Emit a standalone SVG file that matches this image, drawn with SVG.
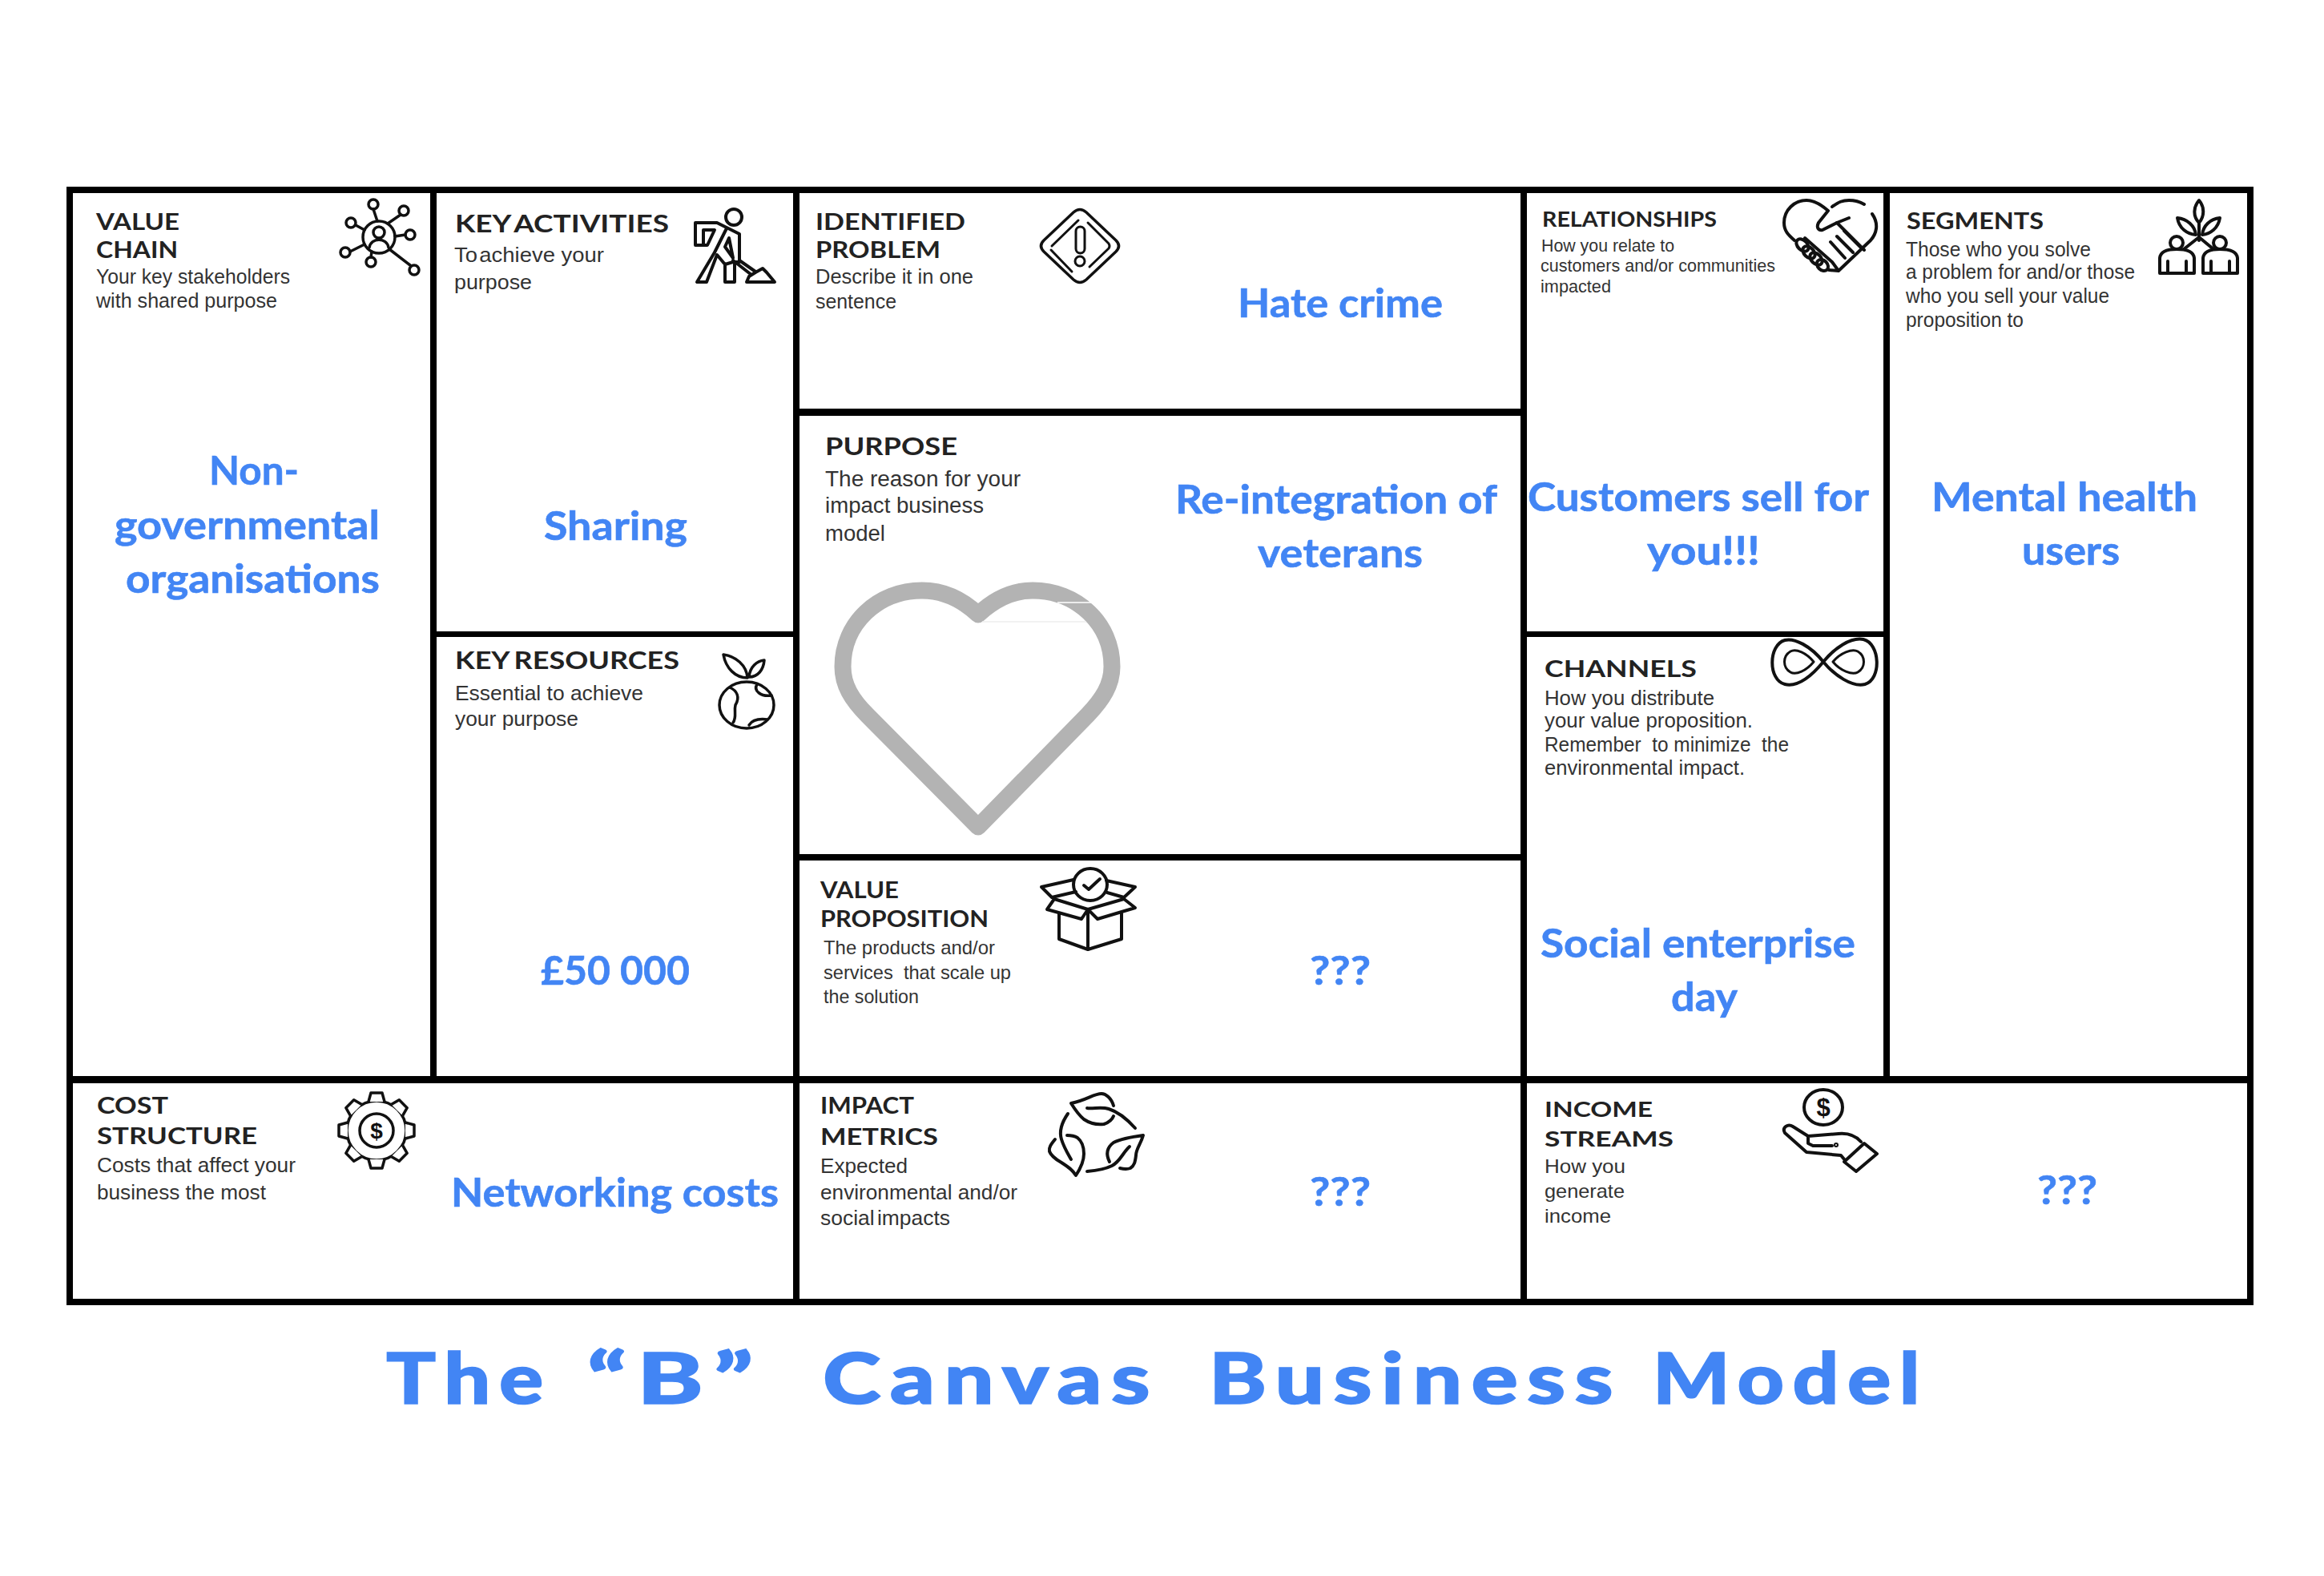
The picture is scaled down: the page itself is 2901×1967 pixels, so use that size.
<svg xmlns="http://www.w3.org/2000/svg" width="2901" height="1967" viewBox="0 0 2901 1967">
<style>
text{white-space:pre}
.h{font-family:"Lato","Liberation Sans",sans-serif;font-weight:700;fill:#222;font-size:29px}
.d{font-family:"Liberation Sans",Arial,sans-serif;fill:#333;font-size:25px}
.b{font-family:"Lato","Liberation Sans",sans-serif;font-weight:700;fill:#4285f4;stroke:#4285f4;stroke-width:.6px;font-size:49px}
.t{font-family:"Lato","Liberation Sans",sans-serif;font-weight:900;fill:#4285f4;stroke:#4285f4;stroke-width:1.5px;font-size:87px;letter-spacing:9px}
.i{fill:none;stroke:#111;stroke-width:3.5;stroke-linejoin:round;stroke-linecap:round}
.g{fill:#000}
</style>
<defs>
<path id="tooth" d="M-10 -36 L-7 -47 H7 L10 -36" fill="#fff" stroke="#111" stroke-width="3.5" stroke-linejoin="round"/>
</defs>
<rect width="2901" height="1967" fill="#fff"/>
<g id="grid">
<rect class="g" x="83" y="233" width="2730" height="8"/>
<rect class="g" x="83" y="1343" width="2730" height="9"/>
<rect class="g" x="83" y="1621" width="2730" height="8"/>
<rect class="g" x="83" y="233" width="8" height="1396"/>
<rect class="g" x="2805" y="233" width="8" height="1396"/>
<rect class="g" x="537" y="233" width="8" height="1115"/>
<rect class="g" x="990" y="233" width="8" height="1396"/>
<rect class="g" x="1898" y="233" width="8" height="1396"/>
<rect class="g" x="2351" y="233" width="8" height="1115"/>
<rect class="g" x="541" y="788" width="453" height="7"/>
<rect class="g" x="994" y="510" width="908" height="9"/>
<rect class="g" x="994" y="1066" width="908" height="8"/>
<rect class="g" x="1902" y="788" width="453" height="7"/>
</g>
<g id="value-chain">
<text class="h" x="120" y="287" textLength="104" lengthAdjust="spacingAndGlyphs">VALUE</text>
<text class="h" x="120" y="322" textLength="102" lengthAdjust="spacingAndGlyphs">CHAIN</text>
<text class="d" x="120" y="354" textLength="242" lengthAdjust="spacingAndGlyphs">Your key stakeholders</text>
<text class="d" x="120" y="384" textLength="226" lengthAdjust="spacingAndGlyphs">with shared purpose</text>
<text class="b" x="261" y="605" textLength="112" lengthAdjust="spacingAndGlyphs">Non-</text>
<text class="b" x="143" y="673" textLength="331" lengthAdjust="spacingAndGlyphs">governmental</text>
<text class="b" x="157" y="740" textLength="317" lengthAdjust="spacingAndGlyphs">organisations</text>
<g class="i">
<circle cx="473" cy="296" r="20"/><circle cx="473" cy="290" r="7"/><path d="M461 309C463 296 483 296 485 309"/>
<path d="M471 276L466 261M484 279L500 268M455 287L444 281M493 295L506 293M455 305L437 314M464 314L463 321M486 311L512 331"/>
<circle cx="466" cy="255" r="6"/><circle cx="504" cy="263" r="6"/><circle cx="438" cy="278" r="6"/><circle cx="512" cy="293" r="6"/><circle cx="431" cy="315" r="6"/><circle cx="463" cy="327" r="6"/><circle cx="517" cy="337" r="6"/>
</g>
</g>
<g id="key-activities">
<text class="h" x="568" y="290" style="font-size:31px;word-spacing:-3px" textLength="267" lengthAdjust="spacingAndGlyphs">KEY ACTIVITIES</text>
<text class="d" x="567" y="327" style="font-size:26px" textLength="187" lengthAdjust="spacingAndGlyphs"><tspan style="word-spacing:-5px">To achieve</tspan> your</text>
<text class="d" x="567" y="361" style="font-size:26px" textLength="97" lengthAdjust="spacingAndGlyphs">purpose</text>
<text class="b" x="679" y="674" textLength="179" lengthAdjust="spacingAndGlyphs">Sharing</text>
<g class="i" style="stroke-width:4">
<circle cx="916" cy="271" r="10"/>
<path d="M868 278H895L923 292V327H915L905 330V352H917V327M868 278V306H883L892 287H878V306M892 315L870 352H882L895 318L905 330M892 315L907 285M910 297L905 308L915 322Z"/>
<path d="M915 325L938 343M923 325L943 339M932 352L935 345L943 340L952 335L957 340L967 352Z"/>
</g>
</g>
<g id="key-resources">
<text class="h" x="568" y="835" style="font-size:31px;word-spacing:-2px" textLength="280" lengthAdjust="spacingAndGlyphs">KEY RESOURCES</text>
<text class="d" x="568" y="874" textLength="235" lengthAdjust="spacingAndGlyphs">Essential to achieve</text>
<text class="d" x="568" y="906" textLength="154" lengthAdjust="spacingAndGlyphs">your purpose</text>
<text class="b" x="675" y="1229" textLength="186" lengthAdjust="spacingAndGlyphs">£50 000</text>
<g class="i">
<ellipse cx="932" cy="880" rx="34" ry="29"/>
<path d="M903 817C918 819 932 830 933 846C918 846 906 834 903 817ZM954 824C945 825 936 832 935 845C946 845 953 836 954 824Z"/>
<path d="M911 858C920 862 924 870 918 880C916 888 920 895 915 902M945 854C940 862 950 870 963 868M935 905C940 897 950 897 958 898"/>
</g>
</g>
<g id="identified-problem">
<text class="h" x="1018" y="287" textLength="187" lengthAdjust="spacingAndGlyphs">IDENTIFIED</text>
<text class="h" x="1018" y="322" textLength="156" lengthAdjust="spacingAndGlyphs">PROBLEM</text>
<text class="d" x="1018" y="354" textLength="197" lengthAdjust="spacingAndGlyphs">Describe it in one</text>
<text class="d" x="1018" y="385" textLength="101" lengthAdjust="spacingAndGlyphs">sentence</text>
<text class="b" x="1545" y="396" textLength="256" lengthAdjust="spacingAndGlyphs">Hate crime</text>
<g class="i">
<path d="M1340 265Q1348 258 1356 265L1393 300Q1400 307 1393 314L1356 349Q1348 356 1340 349L1303 314Q1296 307 1303 300Z"/>
<path d="M1313 307L1346 275M1358 278L1384 304Q1386 307 1384 310L1360 333M1338 339L1312 312" style="stroke-width:3"/>
<rect x="1343" y="283" width="11" height="33" rx="5.5" style="stroke-width:3"/><circle cx="1348" cy="326" r="6" style="stroke-width:3"/>
</g>
</g>
<g id="purpose">
<text class="h" x="1030" y="568" style="font-size:31px" textLength="165" lengthAdjust="spacingAndGlyphs">PURPOSE</text>
<text class="d" x="1030" y="607" style="font-size:27px" textLength="244" lengthAdjust="spacingAndGlyphs">The reason for your</text>
<text class="d" x="1030" y="640" style="font-size:27px" textLength="198" lengthAdjust="spacingAndGlyphs">impact business</text>
<text class="d" x="1030" y="675" style="font-size:27px" textLength="75" lengthAdjust="spacingAndGlyphs">model</text>
<text class="b" x="1467" y="641" textLength="402" lengthAdjust="spacingAndGlyphs">Re-integration of</text>
<text class="b" x="1570" y="708" textLength="206" lengthAdjust="spacingAndGlyphs">veterans</text>
<path d="M1221 1032L1083 893C1063 873 1052 855 1052 832C1052 778 1096 737 1151 737C1178 737 1202 749 1221 767C1240 749 1262 737 1289 737C1344 737 1388 778 1388 832C1388 855 1376 873 1358 892Z" fill="none" stroke="#b3b3b3" stroke-width="21" stroke-linejoin="round"/>
<path d="M1320 752H1362" stroke="#fff" stroke-width="1.5"/>
<path d="M1226 776H1356" stroke="#eee" stroke-width="1.5"/>
</g>
<g id="value-proposition">
<text class="h" x="1024" y="1121" style="font-size:28px" textLength="98" lengthAdjust="spacingAndGlyphs">VALUE</text>
<text class="h" x="1024" y="1157" style="font-size:28px" textLength="210" lengthAdjust="spacingAndGlyphs">PROPOSITION</text>
<text class="d" x="1028" y="1191" style="font-size:24px" textLength="214" lengthAdjust="spacingAndGlyphs">The products and/or</text>
<text class="d" x="1028" y="1222" style="font-size:24px" textLength="234" lengthAdjust="spacingAndGlyphs">services  that scale up</text>
<text class="d" x="1028" y="1252" style="font-size:24px" textLength="119" lengthAdjust="spacingAndGlyphs">the solution</text>
<text class="b" x="1635" y="1229" textLength="76" lengthAdjust="spacingAndGlyphs">???</text>
<g class="i" style="stroke-width:4">
<ellipse cx="1361" cy="1104" rx="21" ry="20"/><path d="M1353 1105L1359 1110L1373 1097"/>
<path d="M1340 1098L1300 1107L1313 1120L1343 1113M1381 1099L1417 1107L1403 1120L1382 1114"/>
<path d="M1316 1122L1358 1135L1403 1122M1316 1122L1307 1135L1350 1147L1358 1135L1370 1147L1417 1133L1403 1122"/>
<path d="M1322 1140V1172L1358 1185L1400 1172V1140M1358 1135V1185"/>
</g>
</g>
<g id="relationships">
<text class="h" x="1925" y="283" style="font-size:26px" textLength="218" lengthAdjust="spacingAndGlyphs">RELATIONSHIPS</text>
<text class="d" x="1924" y="314" style="font-size:22px" textLength="166" lengthAdjust="spacingAndGlyphs">How you relate to</text>
<text class="d" x="1923" y="339" style="font-size:22px" textLength="293" lengthAdjust="spacingAndGlyphs">customers and/or communities</text>
<text class="d" x="1923" y="365" style="font-size:22px" textLength="88" lengthAdjust="spacingAndGlyphs">impacted</text>
<text class="b" x="1907" y="638" textLength="426" lengthAdjust="spacingAndGlyphs">Customers sell for</text>
<text class="b" x="2056" y="705" textLength="141" lengthAdjust="spacingAndGlyphs">you!!!</text>
<g class="i" style="stroke-width:4">
<path d="M2240 300C2232 293 2227 288 2227 278C2227 262 2240 250 2255 250C2265 250 2274 256 2282 263L2270 278C2267 284 2270 288 2275 287L2293 278L2308 272"/>
<path d="M2287 258C2295 252 2300 250 2308 250C2315 250 2322 252 2327 255M2337 267C2346 280 2342 292 2335 300L2295 338M2293 278L2327 312M2285 302L2303 322M2293 295L2313 315M2302 288L2322 308M2253 297L2287 327L2295 338L2283 337"/>
<ellipse cx="2250" cy="306" rx="9" ry="6" transform="rotate(45 2250 306)"/><ellipse cx="2258" cy="315" rx="9" ry="6" transform="rotate(45 2258 315)"/><ellipse cx="2267" cy="323" rx="9" ry="6" transform="rotate(45 2267 323)"/><ellipse cx="2275" cy="331" rx="8" ry="6" transform="rotate(45 2275 331)"/>
</g>
</g>
<g id="channels">
<text class="h" x="1928" y="845" style="font-size:28px" textLength="190" lengthAdjust="spacingAndGlyphs">CHANNELS</text>
<text class="d" x="1928" y="880" textLength="212" lengthAdjust="spacingAndGlyphs">How you distribute</text>
<text class="d" x="1928" y="908" textLength="260" lengthAdjust="spacingAndGlyphs">your value proposition.</text>
<text class="d" x="1928" y="938" textLength="305" lengthAdjust="spacingAndGlyphs">Remember  to minimize  the</text>
<text class="d" x="1928" y="967" textLength="250" lengthAdjust="spacingAndGlyphs">environmental impact.</text>
<text class="b" x="1923" y="1195" textLength="393" lengthAdjust="spacingAndGlyphs">Social enterprise</text>
<text class="b" x="2086" y="1262" textLength="83" lengthAdjust="spacingAndGlyphs">day</text>
<g class="i" style="stroke-width:4">
<path d="M2276 826C2260 806 2240 796 2228 799C2207 805 2207 849 2228 854C2245 858 2262 843 2276 826C2290 809 2310 795 2326 798C2347 803 2349 848 2328 854C2312 858 2290 843 2276 826"/>
<path d="M2264 826C2255 815 2242 809 2235 813C2225 819 2225 833 2235 839C2242 843 2255 837 2264 826ZM2288 826C2297 815 2312 809 2319 813C2329 819 2329 833 2319 839C2312 843 2297 837 2288 826Z" style="stroke-width:3"/>
</g>
</g>
<g id="segments">
<text class="h" x="2380" y="286" style="font-size:28px" textLength="171" lengthAdjust="spacingAndGlyphs">SEGMENTS</text>
<text class="d" x="2379" y="320" textLength="231" lengthAdjust="spacingAndGlyphs">Those who you solve</text>
<text class="d" x="2379" y="348" textLength="286" lengthAdjust="spacingAndGlyphs">a problem for and/or those</text>
<text class="d" x="2379" y="378" textLength="254" lengthAdjust="spacingAndGlyphs">who you sell your value</text>
<text class="d" x="2379" y="408" textLength="147" lengthAdjust="spacingAndGlyphs">proposition to</text>
<text class="b" x="2411" y="638" textLength="332" lengthAdjust="spacingAndGlyphs">Mental health</text>
<text class="b" x="2524" y="705" textLength="122" lengthAdjust="spacingAndGlyphs">users</text>
<g class="i" style="stroke-width:4">
<circle cx="2717" cy="303" r="8"/><circle cx="2771" cy="303" r="8"/>
<path d="M2696 341V322C2697 313 2708 311 2717 311C2727 311 2738 313 2739 322V341ZM2750 341V322C2751 313 2762 311 2771 311C2781 311 2792 313 2793 322V341ZM2706 341V326M2729 341V326M2760 341V326M2783 341V326"/>
<path d="M2745 250C2738 258 2737 270 2745 278C2752 270 2752 258 2745 250ZM2718 272C2720 285 2730 292 2741 293C2740 282 2730 273 2718 272ZM2771 272C2769 285 2759 292 2749 293C2750 282 2759 273 2771 272ZM2745 278V300M2745 296L2726 311M2745 296L2763 311"/>
</g>
</g>
<g id="cost-structure">
<text class="h" x="121" y="1390" style="font-size:28px" textLength="89" lengthAdjust="spacingAndGlyphs">COST</text>
<text class="h" x="121" y="1428" style="font-size:28px" textLength="200" lengthAdjust="spacingAndGlyphs">STRUCTURE</text>
<text class="d" x="121" y="1463" style="font-size:26px" textLength="248" lengthAdjust="spacingAndGlyphs">Costs that affect your</text>
<text class="d" x="121" y="1497" style="font-size:26px" textLength="211" lengthAdjust="spacingAndGlyphs">business the most</text>
<text class="b" x="563" y="1506" textLength="409" lengthAdjust="spacingAndGlyphs">Networking costs</text>
<g transform="translate(470 1411)">
<circle r="37" fill="#fff" stroke="#111" stroke-width="3.5"/>
<use href="#tooth"/><use href="#tooth" transform="rotate(45)"/><use href="#tooth" transform="rotate(90)"/><use href="#tooth" transform="rotate(135)"/><use href="#tooth" transform="rotate(180)"/><use href="#tooth" transform="rotate(225)"/><use href="#tooth" transform="rotate(270)"/><use href="#tooth" transform="rotate(315)"/>
<circle r="21" fill="none" stroke="#111" stroke-width="3.5"/>
<text x="0" y="10" text-anchor="middle" style="font-family:'Liberation Sans',sans-serif;font-weight:700;font-size:28px;fill:#111">$</text>
</g>
</g>
<g id="impact-metrics">
<text class="h" x="1024" y="1390" style="font-size:28px" textLength="117" lengthAdjust="spacingAndGlyphs">IMPACT</text>
<text class="h" x="1024" y="1429" style="font-size:28px" textLength="147" lengthAdjust="spacingAndGlyphs">METRICS</text>
<text class="d" x="1024" y="1464" style="font-size:26px" textLength="109" lengthAdjust="spacingAndGlyphs">Expected</text>
<text class="d" x="1024" y="1497" style="font-size:26px" textLength="246" lengthAdjust="spacingAndGlyphs">environmental and/or</text>
<text class="d" x="1024" y="1529" style="font-size:26px;word-spacing:-4px" textLength="162" lengthAdjust="spacingAndGlyphs">social impacts</text>
<text class="b" x="1635" y="1505" textLength="76" lengthAdjust="spacingAndGlyphs">???</text>
<g class="i" style="stroke-width:4">
<path d="M1390 1380C1387 1370 1380 1365 1375 1365C1365 1365 1357 1373 1337 1377C1342 1385 1347 1392 1353 1397C1362 1403 1370 1404 1378 1403C1384 1401 1388 1398 1390 1393M1357 1383C1365 1384 1375 1381 1384 1384C1397 1388 1408 1398 1417 1408"/>
<path d="M1333 1390C1326 1400 1322 1412 1325 1422C1328 1432 1333 1440 1337 1447"/>
<path d="M1317 1422C1312 1428 1309 1432 1310 1437C1312 1443 1318 1447 1325 1451C1333 1456 1339 1460 1343 1467C1349 1458 1353 1450 1353 1440C1353 1430 1350 1424 1345 1420C1340 1417 1336 1417 1332 1417"/>
<path d="M1427 1417C1412 1419 1398 1422 1390 1426C1382 1432 1380 1440 1385 1450M1427 1417C1424 1428 1418 1434 1418 1442C1417 1450 1416 1455 1411 1458C1406 1460 1402 1459 1398 1458M1410 1431C1402 1438 1398 1450 1388 1455C1378 1460 1368 1461 1357 1462"/>
</g>
</g>
<g id="income-streams">
<text class="h" x="1928" y="1394" style="font-size:27px" textLength="135" lengthAdjust="spacingAndGlyphs">INCOME</text>
<text class="h" x="1928" y="1431" style="font-size:27px" textLength="161" lengthAdjust="spacingAndGlyphs">STREAMS</text>
<text class="d" x="1928" y="1464" style="font-size:24px" textLength="101" lengthAdjust="spacingAndGlyphs">How you</text>
<text class="d" x="1928" y="1495" style="font-size:24px" textLength="100" lengthAdjust="spacingAndGlyphs">generate</text>
<text class="d" x="1928" y="1526" style="font-size:24px" textLength="83" lengthAdjust="spacingAndGlyphs">income</text>
<text class="b" x="2543" y="1503" textLength="75" lengthAdjust="spacingAndGlyphs">???</text>
<g class="i" style="stroke-width:4">
<ellipse cx="2276" cy="1382" rx="24" ry="22"/>
<text x="2276" y="1393" text-anchor="middle" style="font-family:'Liberation Sans',sans-serif;font-weight:700;font-size:31px;fill:#111;stroke:none">$</text>
<path d="M2343 1440L2317 1462L2302 1450L2327 1427ZM2323 1425C2316 1417 2306 1414 2295 1415L2257 1418L2238 1406C2232 1402 2224 1407 2228 1414L2255 1438L2298 1442L2303 1448M2257 1418V1427L2263 1430H2287"/>
<circle cx="2292" cy="1429" r="1"/>
</g>
</g>
<g id="title">
<text class="t" x="482" y="1752" textLength="207" lengthAdjust="spacingAndGlyphs">The</text>
<text class="t" x="733" y="1752" textLength="220" lengthAdjust="spacingAndGlyphs">“B”</text>
<text class="t" x="1027" y="1752" textLength="420" lengthAdjust="spacingAndGlyphs">Canvas</text>
<text class="t" x="1509" y="1752" textLength="516" lengthAdjust="spacingAndGlyphs">Business</text>
<text class="t" x="2063" y="1752" textLength="344" lengthAdjust="spacingAndGlyphs">Model</text>
</g>
</svg>
